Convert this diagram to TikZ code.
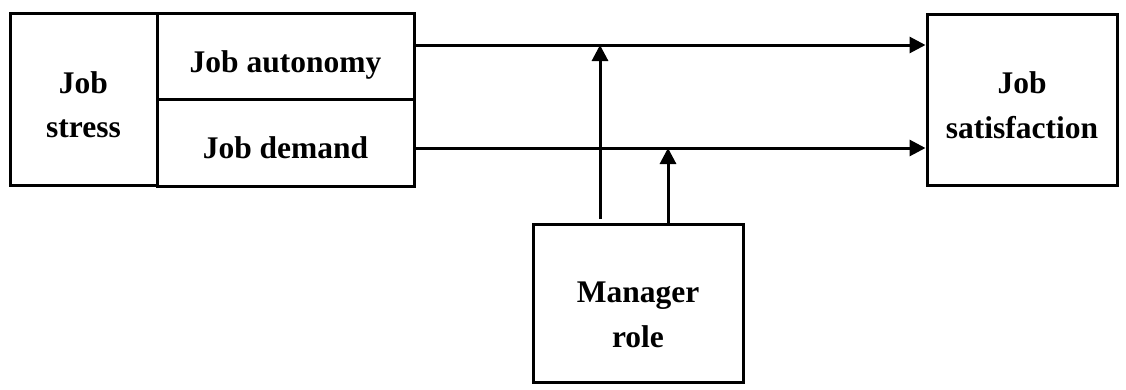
\documentclass[tikz,border=0pt]{standalone}
\usepackage{fontspec}
\setmainfont{Liberation Serif}
\usetikzlibrary{arrows.meta}
\begin{document}
\begin{tikzpicture}[x=1pt,y=-1pt,
  box/.style={draw,line width=3pt,rectangle,inner sep=0pt},
  lbl/.style={anchor=base,inner sep=0pt,font=\fontsize{31.5}{42}\selectfont\bfseries},
  conn/.style={line width=3pt,-{Triangle[length=16pt,width=16pt]}}]
\useasboundingbox (0,0) rectangle (1126,389);
% boxes
\node[box,minimum width=147pt,minimum height=172pt] (stress) at (83.5,99) {};
\node[box,minimum width=257pt,minimum height=86pt] (auto) at (285.5,56) {};
\node[box,minimum width=257pt,minimum height=87pt] (dem) at (285.5,142.5) {};
\node[box,minimum width=190pt,minimum height=171pt] (sat) at (1022,99.5) {};
\node[box,minimum width=210pt,minimum height=158pt] (man) at (638,303) {};
% labels
\node[lbl] (t1) at (83.5,93) {Job};
\node[lbl] (t2) at (83.5,137) {stress};
\node[lbl] (t3) at (285.5,72) {Job autonomy};
\node[lbl] (t4) at (285.5,158) {Job demand};
\node[lbl] (t5) at (1022,93) {Job};
\node[lbl] (t6) at (1022,138) {satisfaction};
\node[lbl] (t7) at (638,302) {Manager};
\node[lbl] (t8) at (638,347) {role};
% connector points
\coordinate (a1) at (auto.east |- 0,45);
\coordinate (s1) at (sat.west |- 0,45);
\coordinate (d1) at (dem.east |- 0,148);
\coordinate (s2) at (sat.west |- 0,148);
\coordinate (m1) at (600,219);
\coordinate (h1) at (600,45);
\coordinate (m2) at (668,224);
\coordinate (h2) at (668,148);
\draw[conn] (a1) -- (s1);
\draw[conn] (d1) -- (s2);
\draw[conn] (m1) -- (h1);
\draw[conn] (m2) -- (h2);
\end{tikzpicture}
\end{document}
